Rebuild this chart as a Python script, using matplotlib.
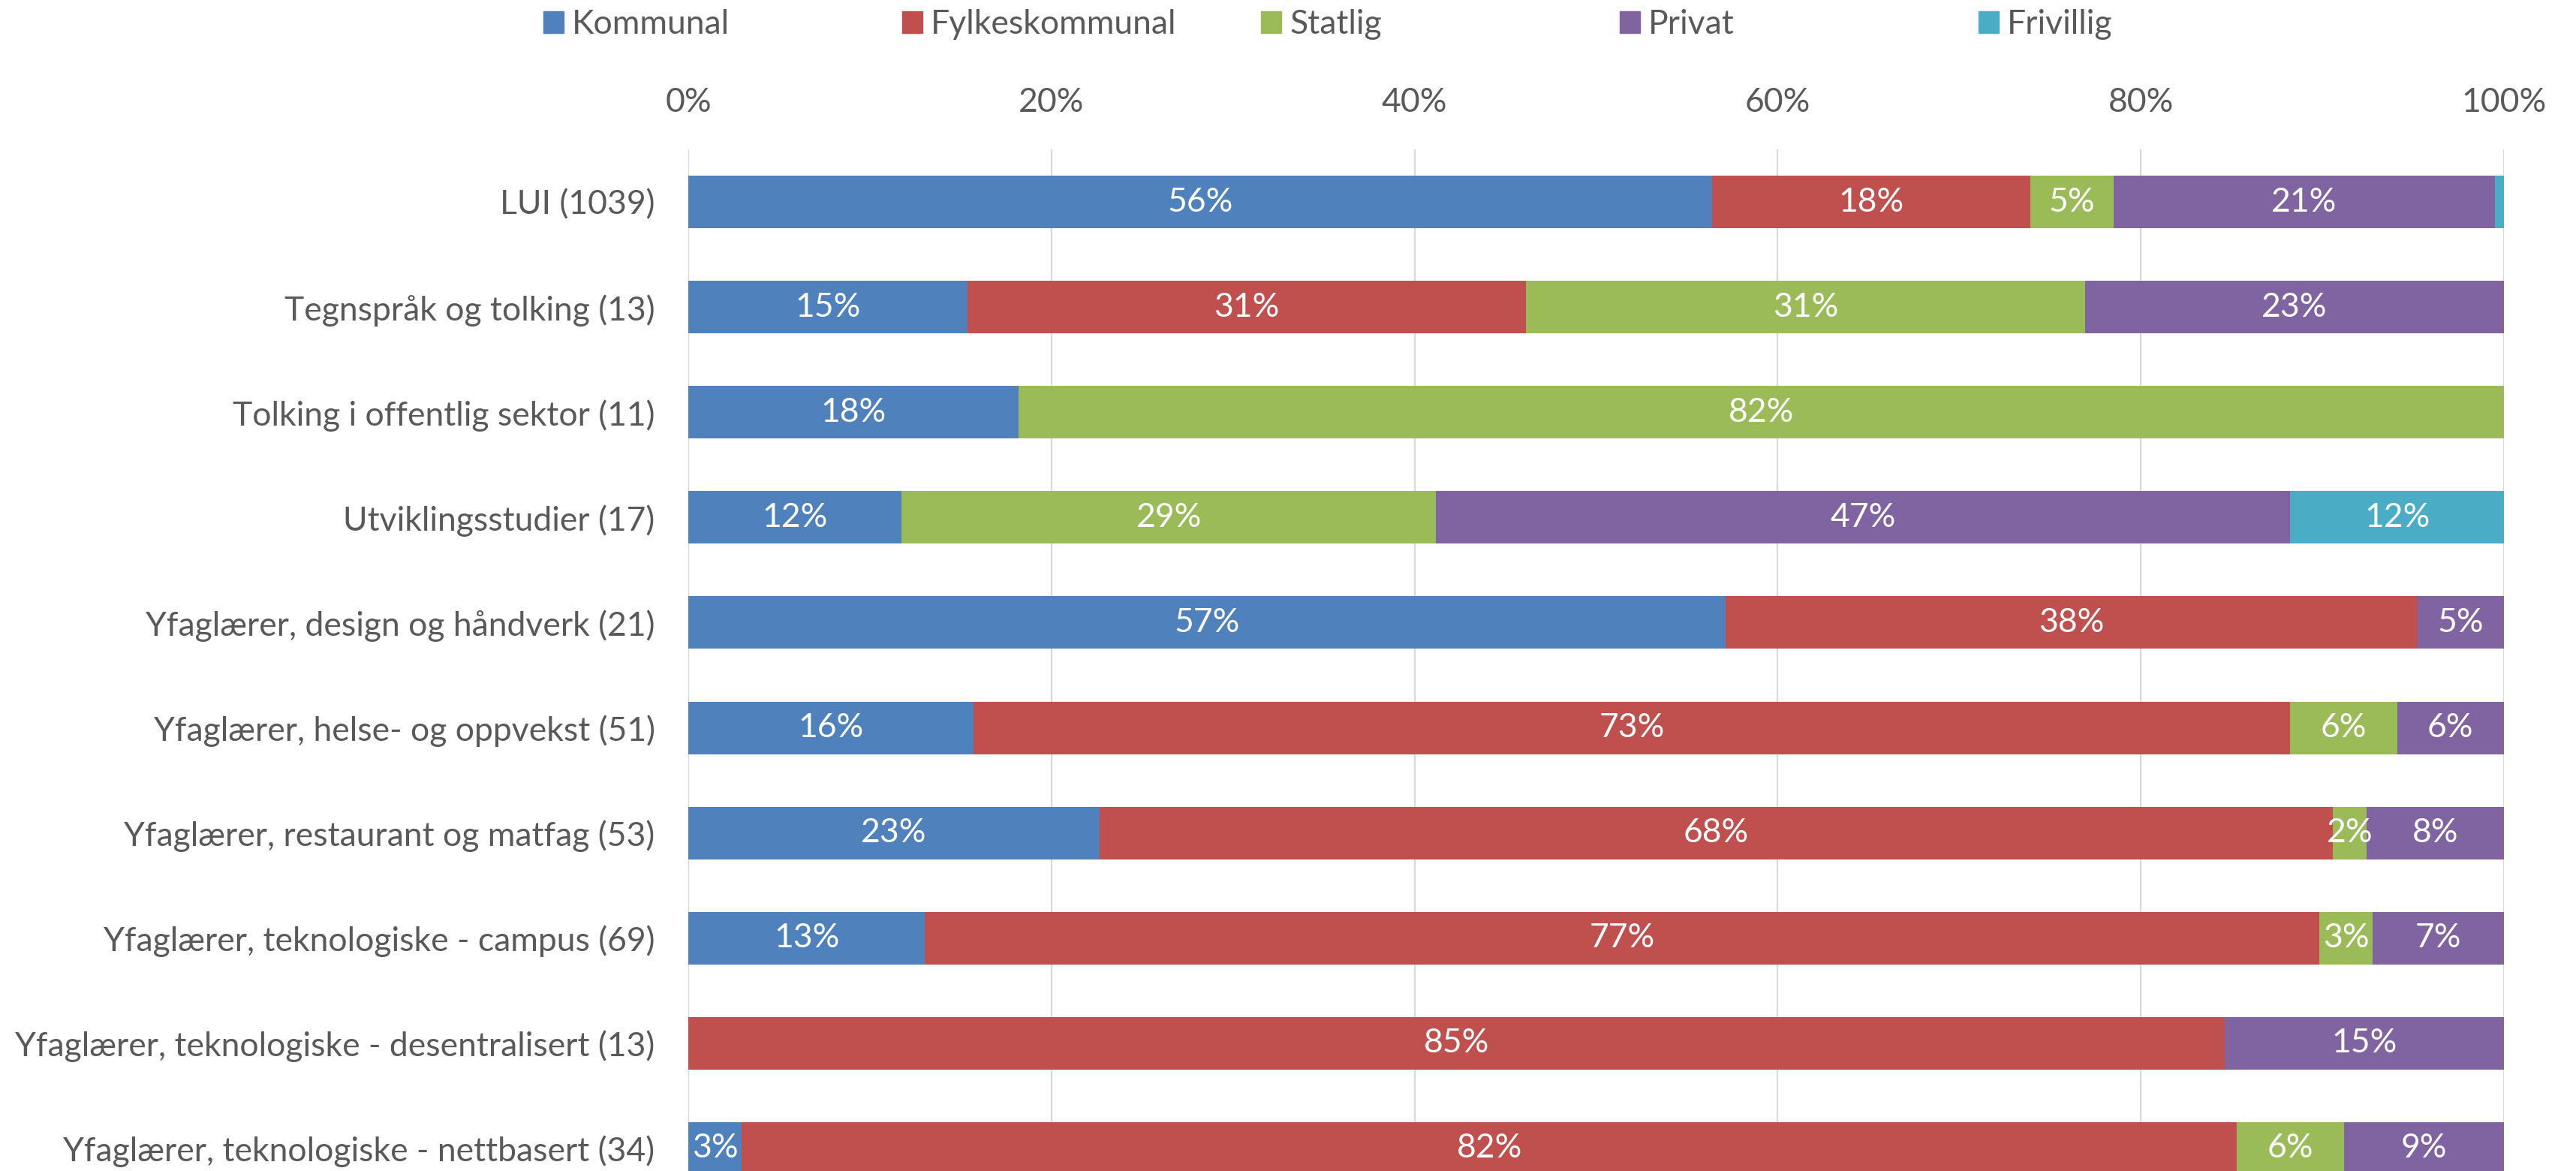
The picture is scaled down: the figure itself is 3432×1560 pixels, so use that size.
import math
import matplotlib.pyplot as plt
from matplotlib.patches import Patch

# Andeler (%) per utdanning, lest av figuren
kategorier = [
    "LUI (1039)",
    "Tegnspråk og tolking (13)",
    "Tolking i offentlig sektor (11)",
    "Utviklingsstudier (17)",
    "Yfaglærer, design og håndverk (21)",
    "Yfaglærer, helse- og oppvekst (51)",
    "Yfaglærer, restaurant og matfag (53)",
    "Yfaglærer, teknologiske - campus (69)",
    "Yfaglærer, teknologiske - desentralisert (13)",
    "Yfaglærer, teknologiske - nettbasert (34)",
]
serier = ["Kommunal", "Fylkeskommunal", "Statlig", "Privat", "Frivillig"]

kommunal = [56.4, 15.38, 18.18, 11.76, 57.14, 15.69, 22.64, 13.04, 0.0, 2.94]
fylkeskommunal = [17.5, 30.77, 0.0, 0.0, 38.10, 72.55, 67.92, 76.81, 84.62, 82.36]
statlig = [4.6, 30.77, 81.82, 29.41, 0.0, 5.88, 1.89, 2.90, 0.0, 5.88]
privat = [21.0, 23.08, 0.0, 47.07, 4.76, 5.88, 7.55, 7.25, 15.38, 8.82]
frivillig = [0.5, 0.0, 0.0, 11.76, 0.0, 0.0, 0.0, 0.0, 0.0, 0.0]

verdier = [kommunal, fylkeskommunal, statlig, privat, frivillig]
farger = ["#4F81BD", "#C0504D", "#9BBB59", "#8064A2", "#4BACC6"]

plt.rcParams["font.family"] = ["Lato", "DejaVu Sans"]
tekstfarge = "#595959"
fs = 32

fig = plt.figure(figsize=(34.32, 15.6), dpi=100)
ax = fig.add_axes([0.2672, -0.0256, 0.7048, 0.898])

y = list(range(len(kategorier)))
venstre = [0.0] * len(kategorier)
for navn, vals, farge in zip(serier, verdier, farger):
    bars = ax.barh(y, vals, left=venstre, height=0.5, color=farge, label=navn, zorder=3)
    for b, v in zip(bars, vals):
        if v >= 1.5:
            # rund av som Excel (halv opp)
            ax.text(b.get_x() + b.get_width() / 2, b.get_y() + b.get_height() / 2,
                    f"{math.floor(v + 0.5)}%", ha="center", va="center", color="white",
                    fontsize=fs, zorder=4)
    venstre = [a + b for a, b in zip(venstre, vals)]

ax.set_xlim(0, 100)
ax.set_ylim(len(kategorier) - 0.5, -0.5)
ax.set_yticks(y)
ax.set_yticklabels(kategorier, fontsize=fs, color=tekstfarge)
ax.set_xticks([0, 20, 40, 60, 80, 100])
ax.set_xticklabels(["0%", "20%", "40%", "60%", "80%", "100%"], fontsize=fs, color=tekstfarge)
ax.xaxis.tick_top()
ax.tick_params(axis="x", length=0, pad=30)
ax.tick_params(axis="y", length=0, pad=32)
ax.grid(axis="x", color="#D9D9D9", linewidth=1.6, zorder=0)
for s in ax.spines.values():
    s.set_visible(False)

# Excel-aktig forklaring: like brede felt
x0, steg = 0.211, 0.1393
for i, (navn, farge) in enumerate(zip(serier, farger)):
    fig.legend(handles=[Patch(color=farge)], labels=[navn], loc="center left",
               bbox_to_anchor=(x0 + i * steg, 0.979), frameon=False, fontsize=fs,
               handlelength=0.6, handleheight=0.6, handletextpad=0.25,
               borderpad=0, borderaxespad=0, labelcolor=tekstfarge)

fig.savefig("out.png", dpi=100)
